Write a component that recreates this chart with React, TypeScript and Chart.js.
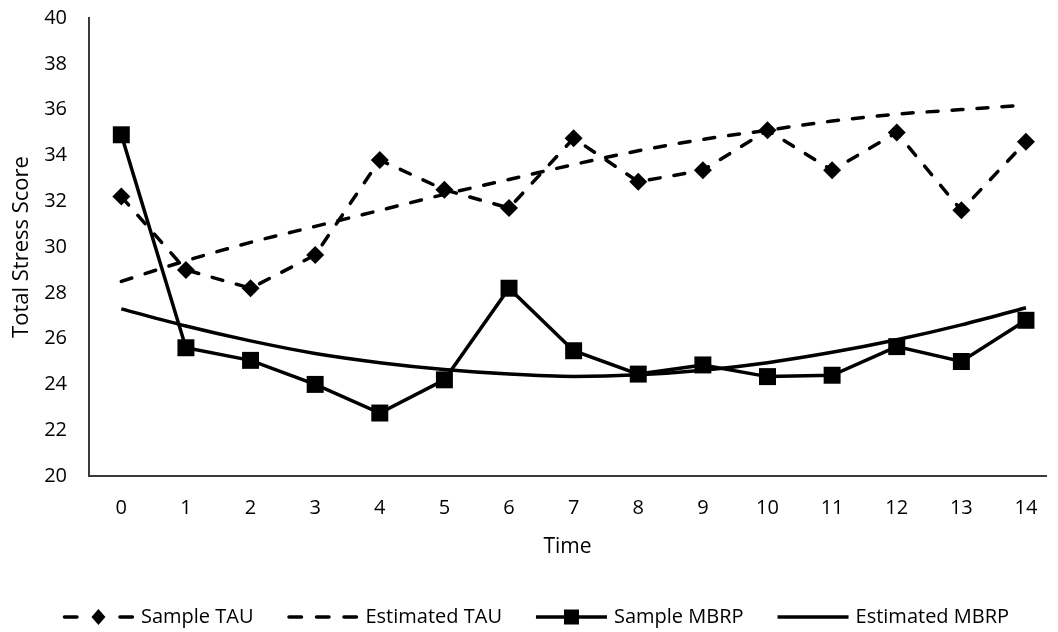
import React, { useEffect, useRef } from "react";
import { Chart, registerables } from "chart.js";

Chart.register(...registerables);

// Time points (x axis) and y-axis ticks
const timeLabels = [0, 1, 2, 3, 4, 5, 6, 7, 8, 9, 10, 11, 12, 13, 14];
const yTicks = [20, 22, 24, 26, 28, 30, 32, 34, 36, 38, 40];

// Series values
const sampleTAU = [32.2, 29.0, 28.2, 29.65, 33.8, 32.5, 31.7, 34.75, 32.85, 33.35, 35.1, 33.35, 35.0, 31.6, 34.6];
const estimatedTAU = [28.5, 29.4, 30.2, 30.9, 31.6, 32.3, 32.95, 33.6, 34.2, 34.7, 35.1, 35.5, 35.8, 36.0, 36.2];
const sampleMBRP = [34.9, 25.6, 25.05, 24.0, 22.75, 24.2, 28.2, 25.47, 24.45, 24.85, 24.34, 24.4, 25.65, 25.0, 26.8];
const estimatedMBRP = [27.3, 26.55, 25.9, 25.35, 24.95, 24.65, 24.45, 24.35, 24.42, 24.62, 24.95, 25.4, 25.95, 26.6, 27.35];

const seriesNames = ["Sample TAU", "Estimated TAU", "Sample MBRP", "Estimated MBRP"];

const FONT = "'Open Sans', 'DejaVu Sans', sans-serif";
const INK = "#000000";
const AXIS = "#3a3a3a";
const LINE_W = 3.5;
const DASH = [11, 14];

const toPoints = (vals: number[]) => vals.map((y, i) => ({ x: timeLabels[i], y }));

// Legend drawn under the axis title: line swatch with optional marker, then the name
const legendPlugin = {
  id: "bottomLegend",
  afterDraw(chart: any) {
    const ctx: CanvasRenderingContext2D = chart.ctx;
    const y = 617;
    const swatchW = 71;
    const textGap = 7;
    const itemGap = 34;
    ctx.save();
    ctx.font = `20px ${FONT}`;
    const widths = seriesNames.map((n) => ctx.measureText(n).width);
    const total = widths.reduce((a, w) => a + swatchW + textGap + w, 0) + itemGap * (seriesNames.length - 1);
    let x = 536 - total / 2;
    seriesNames.forEach((name, i) => {
      const x0 = x;
      const x1 = x + swatchW;
      const mid = (x0 + x1) / 2;
      ctx.strokeStyle = INK;
      ctx.fillStyle = INK;
      ctx.lineWidth = LINE_W;
      if (i === 0) {
        ctx.lineCap = "round";
        ctx.beginPath();
        ctx.moveTo(x0 + 1.5, y);
        ctx.lineTo(x0 + 14, y);
        ctx.moveTo(x1 - 14, y);
        ctx.lineTo(x1 - 1.5, y);
        ctx.stroke();
        ctx.beginPath();
        ctx.moveTo(mid, y - 8);
        ctx.lineTo(mid + 7, y);
        ctx.lineTo(mid, y + 8);
        ctx.lineTo(mid - 7, y);
        ctx.closePath();
        ctx.fill();
      } else if (i === 1) {
        ctx.lineCap = "round";
        ctx.beginPath();
        for (let k = 0; k < 3; k++) {
          const s = x0 + 1.5 + k * 27.5;
          ctx.moveTo(s, y);
          ctx.lineTo(s + 12.5, y);
        }
        ctx.stroke();
      } else {
        ctx.lineCap = "butt";
        ctx.beginPath();
        ctx.moveTo(x0, y);
        ctx.lineTo(x1, y);
        ctx.stroke();
        if (i === 2) {
          ctx.fillRect(mid - 7.5, y - 7.5, 15, 15);
        }
      }
      ctx.fillStyle = INK;
      ctx.textAlign = "left";
      ctx.textBaseline = "middle";
      ctx.fillText(name, x1 + textGap, y);
      x = x1 + textGap + widths[i] + itemGap;
    });
    ctx.restore();
  },
};

export default function App() {
  const canvasRef = useRef<HTMLCanvasElement | null>(null);

  useEffect(() => {
    if (!canvasRef.current) return;
    const chart = new Chart(canvasRef.current, {
      type: "line",
      data: {
        datasets: [
          {
            label: seriesNames[0],
            data: toPoints(sampleTAU),
            borderColor: INK,
            backgroundColor: INK,
            borderWidth: LINE_W,
            borderDash: DASH,
            borderCapStyle: "round",
            pointStyle: "rectRot",
            pointRadius: 9,
            pointBorderWidth: 0,
            tension: 0,
            order: 2,
          },
          {
            label: seriesNames[1],
            data: toPoints(estimatedTAU),
            borderColor: INK,
            backgroundColor: INK,
            borderWidth: LINE_W,
            borderDash: DASH,
            borderCapStyle: "round",
            pointRadius: 0,
            tension: 0.4,
            cubicInterpolationMode: "monotone",
            order: 3,
          },
          {
            label: seriesNames[2],
            data: toPoints(sampleMBRP),
            borderColor: INK,
            backgroundColor: INK,
            borderWidth: LINE_W,
            pointStyle: "rect",
            pointRadius: 12,
            pointBorderWidth: 0,
            tension: 0,
            order: 1,
          },
          {
            label: seriesNames[3],
            data: toPoints(estimatedMBRP),
            borderColor: INK,
            backgroundColor: INK,
            borderWidth: LINE_W,
            pointRadius: 0,
            tension: 0.4,
            cubicInterpolationMode: "monotone",
            order: 4,
          },
        ],
      },
      options: {
        responsive: false,
        animation: false,
        events: [],
        layout: { padding: { top: 18, right: 0, bottom: 0, left: 0 } },
        plugins: {
          legend: { display: false },
          tooltip: { enabled: false },
        },
        scales: {
          x: {
            type: "linear",
            min: -0.5,
            max: 14.31,
            grid: { display: true, drawOnChartArea: false, drawTicks: false, color: "transparent" },
            border: { display: true, color: AXIS, width: 2 },
            ticks: { color: INK, font: { family: FONT, size: 20 }, padding: 20, maxRotation: 0 },
            afterBuildTicks: (scale: any) => {
              scale.ticks = timeLabels.map((v) => ({ value: v }));
            },
            afterFit: (scale: any) => {
              scale.height = 156;
              scale.paddingLeft = 0;
              scale.paddingRight = 0;
            },
            title: {
              display: true,
              text: "Time",
              color: INK,
              font: { family: FONT, size: 21 },
              padding: { top: 0, bottom: 72 },
            },
          },
          y: {
            min: 20,
            max: 40,
            grid: { display: true, drawOnChartArea: false, drawTicks: false, color: "transparent" },
            border: { display: true, color: AXIS, width: 2 },
            ticks: { color: INK, font: { family: FONT, size: 20 }, padding: 22 },
            afterBuildTicks: (scale: any) => {
              scale.ticks = yTicks.map((v) => ({ value: v }));
            },
            afterFit: (scale: any) => {
              scale.width = 89;
              scale.paddingTop = 0;
              scale.paddingBottom = 0;
            },
            title: {
              display: true,
              text: "Total Stress Score",
              color: INK,
              font: { family: FONT, size: 22 },
              padding: { top: 9, bottom: 0 },
            },
          },
        },
      },
      plugins: [legendPlugin],
    } as any);
    return () => chart.destroy();
  }, []);

  return (
    <div style={{ position: "absolute", left: 0, top: 0, width: 1058, height: 632, background: "#fff" }}>
      <canvas ref={canvasRef} width={1058} height={632} />
    </div>
  );
}
